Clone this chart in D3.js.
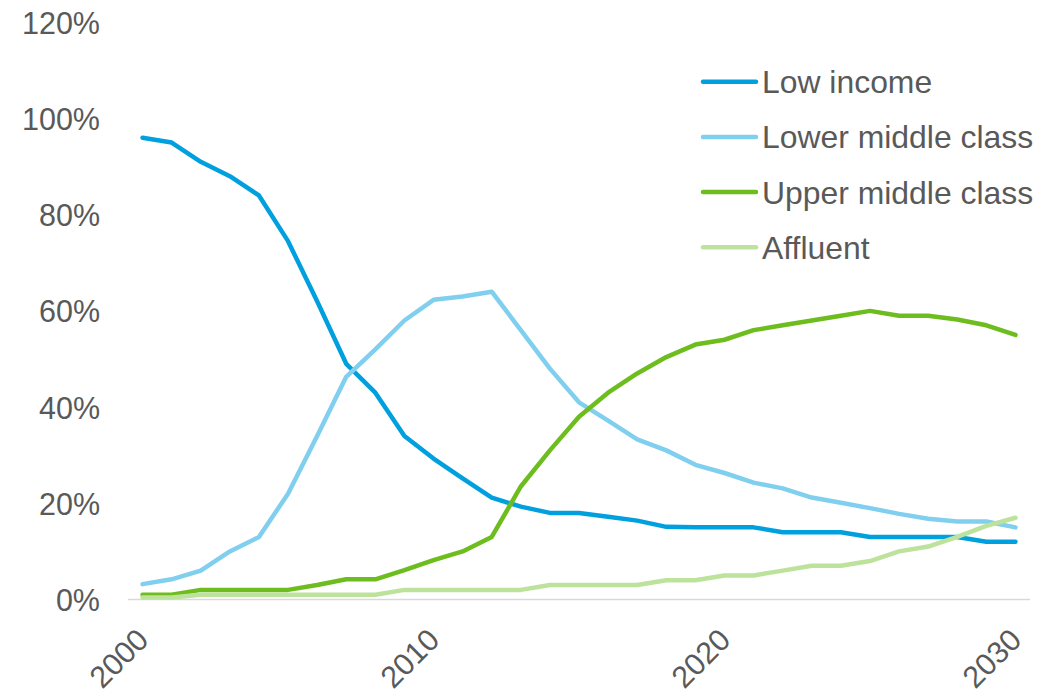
<!DOCTYPE html>
<html>
<head>
<meta charset="utf-8">
<script src="https://cdn.jsdelivr.net/npm/d3@7"></script>
<style>
  html, body { margin: 0; padding: 0; background: #ffffff; }
  svg text { font-family: "Liberation Sans", Arial, sans-serif; fill: #595959; }
</style>
</head>
<body>
<svg id="chart" width="1051" height="699"></svg>
<script>
// Share of households by income group, 2000–2030
const years = d3.range(2000, 2031);
const lowIncome = [96, 95, 91, 88, 84, 74.5, 62, 49, 43, 34, 29.3, 25.2, 21.2, 19.3, 18, 18, 17.2, 16.4, 15.1, 15, 15, 15, 14, 14, 14, 13, 13, 13, 13, 12, 12];
const lowerMiddle = [3.2, 4.2, 6, 10, 13, 22, 34, 46.3, 52, 58, 62.3, 63, 64, 56, 48, 41, 37.2, 33.3, 31, 28, 26.3, 24.3, 23.1, 21.2, 20.1, 19, 17.8, 16.8, 16.2, 16.2, 15];
const upperMiddle = [1, 1, 2, 2, 2, 2, 3, 4.2, 4.2, 6.1, 8.2, 10, 13, 23.5, 31, 38, 43, 47, 50.4, 53, 54, 56, 57, 58, 59, 60, 59, 59, 58.2, 57, 55];
const affluent = [0.4, 0.4, 1, 1, 1, 1, 1, 1, 1, 2, 2, 2, 2, 2, 3, 3, 3, 3, 4, 4, 5, 5, 6, 7, 7, 8, 10, 11, 13, 15.3, 17];
const seriesNames = ["Low income", "Lower middle class", "Upper middle class", "Affluent"];
const seriesColors = ["#00a0df", "#80cfef", "#6ebd1f", "#bde29c"];
const yTicks = [0, 20, 40, 60, 80, 100, 120];
const xTickLabels = [2000, 2010, 2020, 2030];

const seriesValues = [lowIncome, lowerMiddle, upperMiddle, affluent];
const series = seriesNames.map((name, i) => ({
  name,
  color: seriesColors[i],
  points: years.map((yr, j) => ({ year: yr, value: seriesValues[i][j] }))
}));

const svg = d3.select("#chart");

const x = d3.scaleBand().domain(years).range([128, 1030]).padding(0);
const xc = yr => x(yr) + x.bandwidth() / 2;
const y = d3.scaleLinear().domain([0, 120]).range([599.5, 22.3]);

// Y axis labels
const yAxis = d3.axisLeft(y).tickValues(yTicks).tickFormat(d => d + "%").tickSize(0).tickPadding(0);
const gy = svg.append("g").attr("transform", "translate(100,0)").call(yAxis);
gy.select(".domain").remove();
gy.selectAll("text")
  .attr("font-size", "30.5px")
  .attr("fill", "#595959")
  .attr("font-family", "Liberation Sans, Arial, sans-serif")
  .attr("dy", "0.36em");

// X baseline
svg.append("line")
  .attr("x1", x.range()[0]).attr("x2", x.range()[1])
  .attr("y1", y(0)).attr("y2", y(0))
  .attr("stroke", "#d9d9d9").attr("stroke-width", 1.5);

// X axis labels, rotated
const xAxis = d3.axisBottom(x).tickValues(xTickLabels).tickSize(0).tickPadding(0);
const gx = svg.append("g").attr("transform", `translate(0,${y(0)})`).call(xAxis);
gx.select(".domain").remove();
gx.selectAll("text")
  .attr("font-size", "30.5px")
  .attr("fill", "#595959")
  .attr("font-family", "Liberation Sans, Arial, sans-serif")
  .attr("text-anchor", "end")
  .attr("dy", null)
  .attr("y", 0)
  .attr("transform", "translate(0,34.5) rotate(-45)")
  .attr("dominant-baseline", "central");

// Lines, later series drawn on top
const line = d3.line().x(d => xc(d.year)).y(d => y(d.value));
svg.append("g").selectAll("path")
  .data(series)
  .join("path")
  .attr("d", d => line(d.points))
  .attr("fill", "none")
  .attr("stroke", d => d.color)
  .attr("stroke-width", 4.5)
  .attr("stroke-linejoin", "round")
  .attr("stroke-linecap", "round");

// Legend
const legend = svg.append("g");
const legendRows = d3.scaleLinear().domain([0, 3]).range([81.7, 247.3]);
series.forEach((s, i) => {
  const ly = legendRows(i);
  legend.append("line")
    .attr("x1", 703).attr("x2", 756)
    .attr("y1", ly).attr("y2", ly)
    .attr("stroke", s.color).attr("stroke-width", 4.5)
    .attr("stroke-linecap", "round");
  legend.append("text")
    .attr("x", 762).attr("y", ly)
    .attr("dy", "0.36em")
    .attr("font-size", "31.9px")
    .text(s.name);
});
</script>
</body>
</html>
